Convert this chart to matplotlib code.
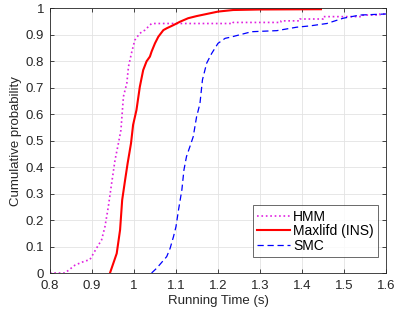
import numpy as np
import matplotlib.pyplot as plt

# running time (s) vs cumulative probability
hmm_t = [0.80, 0.836, 0.86, 0.883, 0.895, 0.911, 0.923, 0.931, 0.939, 0.947,
         0.955, 0.963, 0.969, 0.975, 0.983, 0.987, 0.994, 1.002, 1.014, 1.026,
         1.038, 1.042, 1.236, 1.236, 1.35, 1.35, 1.395, 1.395, 1.45, 1.45,
         1.545, 1.545, 1.585, 1.585, 1.60]
hmm_p = [0.0, 0.0, 0.03, 0.045, 0.05, 0.094, 0.125, 0.175, 0.25, 0.34,
         0.427, 0.49, 0.54, 0.667, 0.717, 0.78, 0.83, 0.88, 0.906, 0.918,
         0.937, 0.943, 0.943, 0.947, 0.947, 0.953, 0.953, 0.96, 0.96, 0.969,
         0.969, 0.975, 0.975, 0.979, 0.979]

ml_t = [0.943, 0.951, 0.959, 0.967, 0.972, 0.979, 0.985, 0.993, 0.998, 1.006,
        1.014, 1.022, 1.03, 1.038, 1.042, 1.05, 1.058, 1.07, 1.078, 1.094,
        1.11, 1.129, 1.149, 1.173, 1.20, 1.236, 1.30, 1.445]
ml_p = [0.0, 0.037, 0.074, 0.163, 0.276, 0.352, 0.415, 0.49, 0.56, 0.616,
        0.704, 0.767, 0.80, 0.818, 0.837, 0.868, 0.893, 0.918, 0.925, 0.937,
        0.95, 0.963, 0.971, 0.979, 0.988, 0.994, 0.996, 0.997]

smc_t = [1.042, 1.054, 1.078, 1.086, 1.094, 1.10, 1.106, 1.114, 1.119, 1.125,
         1.133, 1.141, 1.149, 1.157, 1.163, 1.173, 1.185, 1.20, 1.217, 1.229,
         1.28, 1.34, 1.387, 1.419, 1.459, 1.498, 1.538, 1.60]
smc_p = [0.0, 0.018, 0.062, 0.093, 0.137, 0.175, 0.238, 0.314, 0.39, 0.44,
         0.477, 0.515, 0.59, 0.64, 0.73, 0.793, 0.83, 0.868, 0.887, 0.891,
         0.912, 0.916, 0.929, 0.934, 0.943, 0.963, 0.975, 0.979]

x_ticks = [0.8, 0.9, 1.0, 1.1, 1.2, 1.3, 1.4, 1.5, 1.6]
y_ticks = [0, 0.1, 0.2, 0.3, 0.4, 0.5, 0.6, 0.7, 0.8, 0.9, 1]

plt.rcParams["font.family"] = ["Liberation Sans", "DejaVu Sans"]

fig = plt.figure(figsize=(3.96, 3.12), dpi=100)
ax = fig.add_axes([0.126, 0.125, 0.849, 0.848])

ax.plot(hmm_t, hmm_p, color="#e020e0", linestyle=":", linewidth=1.2, label="HMM")
ax.plot(ml_t, ml_p, color="#ff0000", linestyle="-", linewidth=1.5, label="Maxlifd (INS)")
ax.plot(smc_t, smc_p, color="#0000ff", linestyle=(0, (5, 3)), linewidth=0.9, label="SMC")

ax.set_xlim(0.8, 1.6)
ax.set_ylim(0, 1)
ax.set_xticks(x_ticks)
ax.set_xticklabels(["0.8", "0.9", "1", "1.1", "1.2", "1.3", "1.4", "1.5", "1.6"])
ax.set_yticks(y_ticks)
ax.set_yticklabels(["0", "0.1", "0.2", "0.3", "0.4", "0.5", "0.6", "0.7", "0.8", "0.9", "1"])

ax.grid(True, color="#e3e3e3", linewidth=0.6)
ax.set_axisbelow(True)
ax.tick_params(direction="in", length=3, width=0.6, labelsize=9.5,
               colors="#262626", top=True, right=True)
ax.tick_params(axis="x", pad=5)
ax.tick_params(axis="y", pad=4)
for s in ax.spines.values():
    s.set_color("#262626")
    s.set_linewidth(0.6)

ax.set_xlabel("Running Time (s)", fontsize=9.5, color="#262626", labelpad=2)
ax.set_ylabel("Cumulative probability", fontsize=9.5, color="#262626", labelpad=3)

leg = ax.legend(loc="lower right", bbox_to_anchor=(0.975, 0.06), fontsize=10,
                frameon=True, fancybox=False, edgecolor="#262626",
                handlelength=2.4, handletextpad=0.2, borderpad=0.3,
                labelspacing=0.05, borderaxespad=0)
leg.get_frame().set_linewidth(0.6)

fig.savefig("out.png", dpi=100)
